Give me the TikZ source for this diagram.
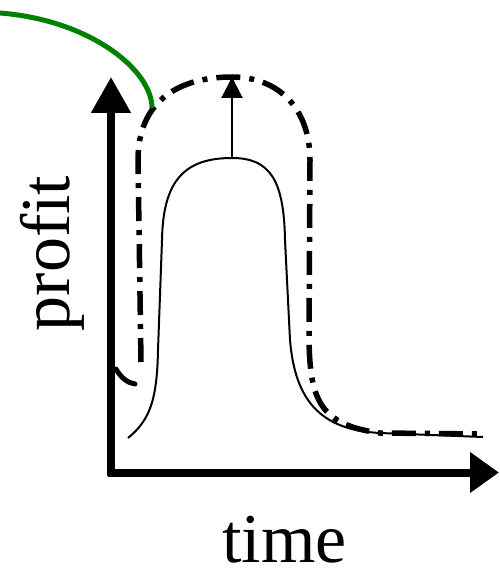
\documentclass[tikz,border=0pt]{standalone}
\usepackage{fontspec}
\setmainfont{Liberation Serif}
\usetikzlibrary{arrows.meta}
\definecolor{curvegreen}{RGB}{0,128,0}
\begin{document}
\begin{tikzpicture}[x=1pt,y=-1pt,
  axisline/.style={line width=8pt},
  solidcurve/.style={line width=2pt},
  dashdotcurve/.style={line width=5.5pt,dash pattern=on 24pt off 9pt on 5pt off 9pt},
  greencurve/.style={line width=5pt,draw=curvegreen},
  label/.style={font=\fontsize{70}{70}\selectfont,inner sep=0pt}]
\useasboundingbox (0,0) rectangle (499,572);
% coordinates
\coordinate (yb) at (111,476);
\coordinate (yt) at (111,77);
\coordinate (xl) at (108,472.5);
\coordinate (xr) at (499,472.5);
\coordinate (sb) at (232,158);
\coordinate (st) at (232,77);
\coordinate (g0) at (0,13);
\coordinate (g1) at (152,108);
\coordinate (h0) at (116,369);
\coordinate (h1) at (135,384);
% hook
\draw[line width=5pt,line cap=round] (h0) .. controls (121,378) and (128,383) .. (h1);
% solid curve
\draw[solidcurve] (128,438) .. controls (150,420) and (157,400) .. (158,350) -- (162,240)
  .. controls (163,180) and (185,158) .. (sb)
  .. controls (270,158) and (284,180) .. (285,240) -- (290,340)
  .. controls (295,400) and (320,430) .. (380,433) -- (483,437);
% dash-dot curve
\draw[dashdotcurve] (141,362) -- (138,160) .. controls (138,100) and (180,77) .. (232,77)
  .. controls (280,77) and (310,110) .. (310,160) -- (309,340)
  .. controls (310,400) and (320,425) .. (380,433) -- (483,434);
% arrow up
\draw[line width=2pt,-{Triangle[length=21pt,width=21pt]}] (sb) -- (st);
% axes
\draw[axisline,-{Triangle[length=36pt,width=38pt]}] (yb) -- (yt);
\draw[axisline,-{Triangle[length=29pt,width=39pt]}] (xl) -- (xr);
% green curve
\draw[greencurve] (g0) .. controls (90,20) and (152,70) .. (g1);
% labels
\node[label,anchor=base] (tlabel) at (284.5,562) {time};
\node[label,rotate=90,anchor=base] (plabel) at (69,253.5) {profit};
\end{tikzpicture}
\end{document}
